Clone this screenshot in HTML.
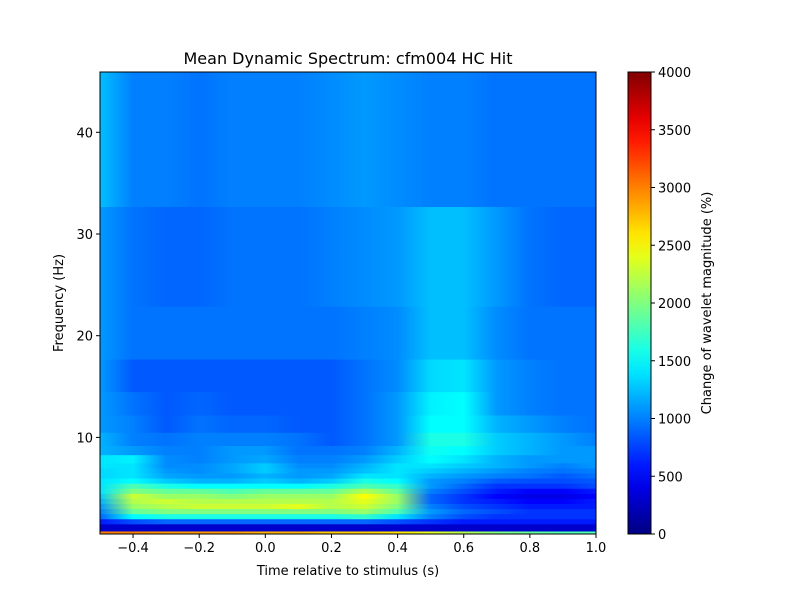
<!DOCTYPE html>
<html><head><meta charset="utf-8"><style>
body{margin:0;background:#fff;font-family:"Liberation Sans","DejaVu Sans",sans-serif;}
svg text{font-family:"DejaVu Sans","Liberation Sans",sans-serif;font-size:13px;fill:#000;}
</style></head><body>
<svg id="chart" width="800" height="600" xmlns="http://www.w3.org/2000/svg">
<rect width="800" height="600" fill="#fff"/>
<text x="348" y="64" text-anchor="middle" style="font-size:16px">Mean Dynamic Spectrum: cfm004 HC Hit</text>
<g id="plot"></g>
<g id="axes"></g>
<defs id="defs"></defs>
</svg>
<script>
const timePoints=[-0.5,-0.4,-0.3,-0.2,-0.1,0.0,0.1,0.2,0.3,0.4,0.5,0.6,0.7,0.8,0.9,1.0];
const freqEdges=[0.5,0.8,1.5,2.0,2.5,3.0,3.5,4.0,4.5,5.0,5.5,6.0,6.5,7.0,7.5,8.3,9.2,10.5,12.2,14.5,17.7,22.9,32.7,45.9];
const values=[
[3000,3000,2900,2900,2900,2800,2800,2700,2700,2600,2400,2200,2000,1900,1800,1800],
[300,300,300,300,300,300,300,300,300,300,300,300,300,300,300,300],
[600,800,900,900,900,900,900,900,900,800,700,600,600,600,600,600],
[900,1500,1600,1600,1600,1600,1600,1600,1700,1400,1000,800,700,700,700,700],
[1000,1900,2000,2000,2000,2000,2000,2000,2100,1800,1100,900,800,700,700,700],
[1100,2100,2200,2300,2300,2300,2400,2200,2300,2000,1000,800,700,600,600,600],
[1200,2200,2300,2200,2200,2200,2200,2200,2400,2100,900,700,600,500,500,600],
[1300,2300,2100,2100,2000,2100,2100,2100,2500,2100,900,700,500,400,400,500],
[1400,2000,1900,1900,1800,1900,1900,1900,2200,1900,1000,800,600,500,500,600],
[1400,1800,1600,1500,1500,1500,1500,1600,1800,1700,1100,900,700,700,700,800],
[1400,1500,1300,1200,1200,1300,1200,1300,1600,1500,1100,1000,850,800,800,850],
[1350,1400,1150,1100,1100,1200,1100,1150,1400,1400,1200,1100,1000,950,850,950],
[1350,1400,1100,1050,1150,1300,1100,1100,1250,1400,1300,1200,1100,1000,950,1000],
[1400,1400,1050,1050,1150,1300,1050,1050,1200,1400,1400,1300,1200,1100,1000,1100],
[1400,1450,1050,1000,1100,1150,1000,1000,1100,1300,1500,1400,1200,1100,1100,1100],
[1200,1100,1000,1000,1100,1100,950,950,1000,1200,1550,1500,1300,1200,1100,1100],
[1200,1000,950,1000,1000,1000,950,850,950,1100,1600,1600,1300,1200,1100,1000],
[1100,1000,850,950,900,900,850,850,950,1100,1500,1500,1200,1100,1000,950],
[1100,950,850,900,850,850,850,850,950,1100,1450,1500,1100,1000,950,950],
[1100,850,850,850,850,850,850,850,950,1050,1350,1400,1100,1000,950,950],
[1100,950,950,950,950,950,950,950,1000,1050,1250,1250,1050,950,950,950],
[1100,950,900,900,950,950,950,1000,1050,1100,1250,1250,1100,950,900,900],
[1250,1000,1000,950,1000,1000,1000,1050,1100,1050,1000,1000,950,950,950,950]
];
const xTicks=[-0.4,-0.2,0.0,0.2,0.4,0.6,0.8,1.0];
const xTickLabels=["\u22120.4","\u22120.2","0.0","0.2","0.4","0.6","0.8","1.0"];
const yTicks=[10,20,30,40];
const cbTicks=[0,500,1000,1500,2000,2500,3000,3500,4000];

const NS="http://www.w3.org/2000/svg";
const L=100,R=596,T=72,B=534,VMAX=4000;
const xs=t=>L+(t+0.5)/1.5*(R-L);
const ys=f=>539.1-f*10.17;
function clip(v){return Math.max(0,Math.min(1,v));}
function jet(v){const x=clip(v/VMAX);const r=clip(1.5-Math.abs(4*x-3)),g=clip(1.5-Math.abs(4*x-2)),b=clip(1.5-Math.abs(4*x-1));
return `rgb(${Math.round(r*255)},${Math.round(g*255)},${Math.round(b*255)})`;}
function mk(tag,attrs,parent){const e=document.createElementNS(NS,tag);for(const k in attrs)e.setAttribute(k,attrs[k]);parent.appendChild(e);return e;}
const defs=document.getElementById('defs'),plot=document.getElementById('plot'),axes=document.getElementById('axes');
const x0=xs(timePoints[0]),x1=xs(timePoints[timePoints.length-1]);
values.forEach((row,i)=>{
  const g=mk('linearGradient',{id:'g'+i,gradientUnits:'userSpaceOnUse',x1:x0,x2:x1,y1:0,y2:0},defs);
  row.forEach((v,j)=>{mk('stop',{offset:((xs(timePoints[j])-x0)/(x1-x0)).toFixed(4),'stop-color':jet(v)},g);});
  const ya=Math.max(T,ys(freqEdges[i+1])),yb=Math.min(B,ys(freqEdges[i]));
  const r=mk('rect',{x:L,y:ya,width:R-L,height:yb-ya+0.5,fill:`url(#g${i})`},plot);
  
  
});
mk('rect',{x:L,y:T,width:R-L,height:B-T,fill:'none',stroke:'#000','stroke-width':1},axes);
xTicks.forEach((t,i)=>{const x=xs(t);mk('line',{x1:x,x2:x,y1:B,y2:B+4,stroke:'#000'},axes);
 const tx=mk('text',{x:x,y:B+18,'text-anchor':'middle'},axes);tx.textContent=xTickLabels[i];
 });
yTicks.forEach(f=>{const y=ys(f);mk('line',{x1:L-4,x2:L,y1:y,y2:y,stroke:'#000'},axes);
 const tx=mk('text',{x:L-7,y:y+5,'text-anchor':'end'},axes);tx.textContent=f;
 });
let t=mk('text',{x:348,y:575,'text-anchor':'middle'},axes);t.textContent='Time relative to stimulus (s)';

t=mk('text',{x:0,y:0,'text-anchor':'middle',transform:'translate(63,303) rotate(-90)'},axes);t.textContent='Frequency (Hz)';

const CL=628,CR=651;const cy=v=>B-v/VMAX*(B-T);
const cg=mk('linearGradient',{id:'cbg',x1:0,x2:0,y1:1,y2:0},defs);
for(let k=0;k<=20;k++){mk('stop',{offset:k/20,'stop-color':jet(k/20*VMAX)},cg);}
const cb=mk('rect',{x:CL,y:T,width:CR-CL,height:B-T,fill:'url(#cbg)',stroke:'#000'},axes);

cbTicks.forEach(v=>{const y=cy(v);mk('line',{x1:CR,x2:CR+4,y1:y,y2:y,stroke:'#000'},axes);
 const tx=mk('text',{x:CR+7,y:y+5},axes);tx.textContent=v;
 });
t=mk('text',{x:0,y:0,'text-anchor':'middle',transform:'translate(711,303) rotate(-90)'},axes);t.textContent='Change of wavelet magnitude (%)';

</script>
</body></html>
